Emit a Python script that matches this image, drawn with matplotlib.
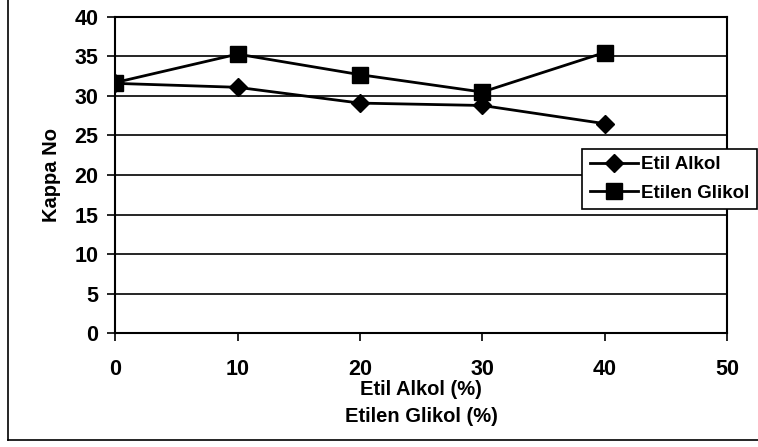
import matplotlib
matplotlib.use('Agg')
import matplotlib.pyplot as plt
from matplotlib.lines import Line2D

plt.rcParams['font.family'] = ['Liberation Sans', 'DejaVu Sans']
plt.rcParams['font.weight'] = 'bold'

# Kappa number vs. solvent concentration
konsantrasyon = [0, 10, 20, 30, 40]
etil_alkol = [31.6, 31.1, 29.1, 28.8, 26.5]
etilen_glikol = [31.7, 35.3, 32.7, 30.5, 35.5]
seri_adlari = ['Etil Alkol', 'Etilen Glikol']

fig = plt.figure(figsize=(7.58, 4.47), dpi=100)
ax = fig.add_axes([0.152, 0.255, 0.807, 0.707])

ax.plot(konsantrasyon, etil_alkol, color='black', lw=2, marker='D',
        markersize=9, label=seri_adlari[0], zorder=3)
ax.plot(konsantrasyon, etilen_glikol, color='black', lw=2, marker='s',
        markersize=11, label=seri_adlari[1], zorder=3)

ax.set_xlim(0, 50)
ax.set_ylim(0, 40)
ax.set_xticks(range(0, 51, 10))
ax.set_yticks(range(0, 41, 5))
ax.yaxis.grid(True, color='black', lw=1.2)
ax.set_axisbelow(True)
for s in ax.spines.values():
    s.set_linewidth(1.5)
ax.tick_params(axis='x', direction='out', length=6, width=1.2, pad=13, labelsize=15.5)
ax.tick_params(axis='y', direction='out', length=6, width=1.2, pad=6, labelsize=15.5)

ax.set_xlabel('Etil Alkol (%)\nEtilen Glikol (%)', fontsize=14.5, fontweight='bold',
              labelpad=0, linespacing=1.5)
ax.set_ylabel('Kappa No', fontsize=14.5, fontweight='bold', labelpad=10)

leg = fig.legend(loc='upper left', bbox_to_anchor=(0.768, 0.667), fontsize=13.5,
                 frameon=True, fancybox=False, edgecolor='black', framealpha=1,
                 handlelength=2.6, borderpad=0.4, labelspacing=0.6, handletextpad=0.15,
                 borderaxespad=0)
leg.get_frame().set_linewidth(1.2)

# chart frame
fig.add_artist(Line2D([8 / 758, 8 / 758], [1.0, 1 - 440 / 447], color='black', lw=1.2,
                      transform=fig.transFigure))
fig.add_artist(Line2D([8 / 758, 1.0], [1 - 440 / 447, 1 - 440 / 447], color='black', lw=1.2,
                      transform=fig.transFigure))

fig.savefig('out.png', dpi=100)
